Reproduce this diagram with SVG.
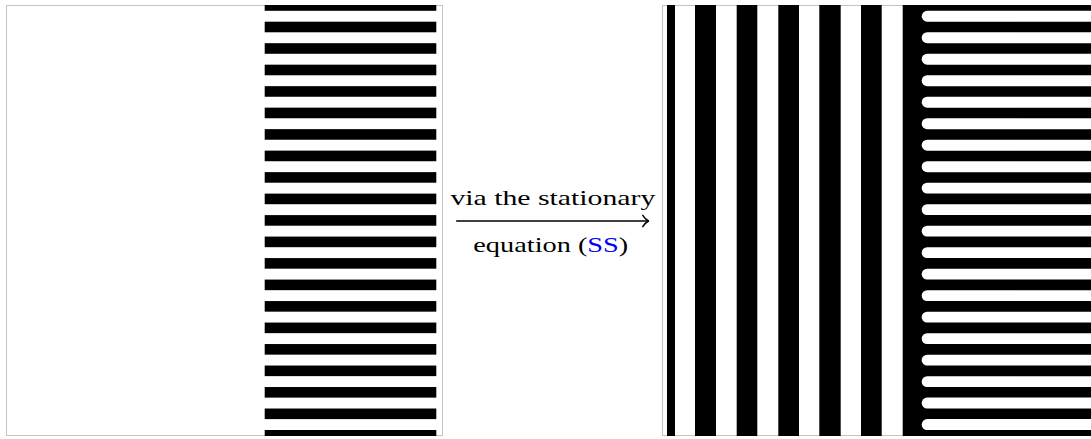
<svg xmlns="http://www.w3.org/2000/svg" width="1091" height="439" viewBox="0 0 1091 439">
  <style>
    .frame { fill: #ffffff; stroke: #c4c4c4; stroke-width: 1; }
    .blk { fill: #000000; }
    .wht { fill: #ffffff; }
    .lbl { font-family: "Liberation Serif", "DejaVu Serif", serif; font-size: 22px; fill: #000000; }
    .ref { fill: #0000ff; }
    .arrow { stroke: #000000; stroke-width: 1.5; fill: none; stroke-linecap: round; stroke-linejoin: round; }
  </style>
  <defs>
    <clipPath id="clipL"><rect x="6" y="5" width="437" height="431"/></clipPath>
    <clipPath id="clipR"><rect x="662" y="5" width="440" height="431"/></clipPath>
  </defs>
  <rect x="0" y="0" width="1091" height="439" fill="#ffffff"/>

  <g id="left-panel">
    <rect class="frame" x="6.5" y="5.5" width="436" height="430"/>
    <g clip-path="url(#clipL)">
      <rect class="blk" x="264.7" y="0.2" width="171.6" height="10.6"/>
      <rect class="blk" x="264.7" y="21.69" width="171.6" height="10.6"/>
      <rect class="blk" x="264.7" y="43.18" width="171.6" height="10.6"/>
      <rect class="blk" x="264.7" y="64.67" width="171.6" height="10.6"/>
      <rect class="blk" x="264.7" y="86.16" width="171.6" height="10.6"/>
      <rect class="blk" x="264.7" y="107.65" width="171.6" height="10.6"/>
      <rect class="blk" x="264.7" y="129.14" width="171.6" height="10.6"/>
      <rect class="blk" x="264.7" y="150.63" width="171.6" height="10.6"/>
      <rect class="blk" x="264.7" y="172.12" width="171.6" height="10.6"/>
      <rect class="blk" x="264.7" y="193.61" width="171.6" height="10.6"/>
      <rect class="blk" x="264.7" y="215.1" width="171.6" height="10.6"/>
      <rect class="blk" x="264.7" y="236.59" width="171.6" height="10.6"/>
      <rect class="blk" x="264.7" y="258.08" width="171.6" height="10.6"/>
      <rect class="blk" x="264.7" y="279.57" width="171.6" height="10.6"/>
      <rect class="blk" x="264.7" y="301.06" width="171.6" height="10.6"/>
      <rect class="blk" x="264.7" y="322.55" width="171.6" height="10.6"/>
      <rect class="blk" x="264.7" y="344.04" width="171.6" height="10.6"/>
      <rect class="blk" x="264.7" y="365.53" width="171.6" height="10.6"/>
      <rect class="blk" x="264.7" y="387.02" width="171.6" height="10.6"/>
      <rect class="blk" x="264.7" y="408.51" width="171.6" height="10.6"/>
      <rect class="blk" x="264.7" y="430.0" width="171.6" height="10.6"/>
    </g>
  </g>

  <g id="right-panel">
    <rect class="frame" x="662.5" y="5.5" width="440" height="430"/>
    <g clip-path="url(#clipR)">
      <rect class="blk" x="667" y="5" width="8" height="431"/>
      <rect class="blk" x="695" y="5" width="21" height="431"/>
      <rect class="blk" x="736.7" y="5" width="20.6" height="431"/>
      <rect class="blk" x="778.3" y="5" width="20.7" height="431"/>
      <rect class="blk" x="819.3" y="5" width="21.4" height="431"/>
      <rect class="blk" x="861" y="5" width="20.7" height="431"/>
      <rect class="blk" x="902.7" y="5" width="200" height="431"/>
      <rect class="wht" x="921.7" y="10.8" width="200" height="10.9" rx="5.4"/>
      <rect class="wht" x="921.7" y="32.29" width="200" height="10.9" rx="5.4"/>
      <rect class="wht" x="921.7" y="53.78" width="200" height="10.9" rx="5.4"/>
      <rect class="wht" x="921.7" y="75.27" width="200" height="10.9" rx="5.4"/>
      <rect class="wht" x="921.7" y="96.76" width="200" height="10.9" rx="5.4"/>
      <rect class="wht" x="921.7" y="118.25" width="200" height="10.9" rx="5.4"/>
      <rect class="wht" x="921.7" y="139.74" width="200" height="10.9" rx="5.4"/>
      <rect class="wht" x="921.7" y="161.23" width="200" height="10.9" rx="5.4"/>
      <rect class="wht" x="921.7" y="182.72" width="200" height="10.9" rx="5.4"/>
      <rect class="wht" x="921.7" y="204.21" width="200" height="10.9" rx="5.4"/>
      <rect class="wht" x="921.7" y="225.7" width="200" height="10.9" rx="5.4"/>
      <rect class="wht" x="921.7" y="247.19" width="200" height="10.9" rx="5.4"/>
      <rect class="wht" x="921.7" y="268.68" width="200" height="10.9" rx="5.4"/>
      <rect class="wht" x="921.7" y="290.17" width="200" height="10.9" rx="5.4"/>
      <rect class="wht" x="921.7" y="311.66" width="200" height="10.9" rx="5.4"/>
      <rect class="wht" x="921.7" y="333.15" width="200" height="10.9" rx="5.4"/>
      <rect class="wht" x="921.7" y="354.64" width="200" height="10.9" rx="5.4"/>
      <rect class="wht" x="921.7" y="376.13" width="200" height="10.9" rx="5.4"/>
      <rect class="wht" x="921.7" y="397.62" width="200" height="10.9" rx="5.4"/>
      <rect class="wht" x="921.7" y="419.11" width="200" height="10.9" rx="5.4"/>
    </g>
  </g>

  <g id="connectors">
    <line class="arrow" x1="456.7" y1="221" x2="648" y2="221"/>
    <path class="arrow" d="M642.8 215.3 Q645.3 219.3 648.5 221 Q645.3 222.7 642.8 226.7"/>
  </g>

  <g id="arrow-label">
    <text class="lbl" x="552.9" y="204.8" text-anchor="middle" textLength="205" lengthAdjust="spacingAndGlyphs">via the stationary</text>
    <text class="lbl" x="550.8" y="252" text-anchor="middle" textLength="155" lengthAdjust="spacingAndGlyphs">equation (<tspan class="ref">SS</tspan>)</text>
  </g>
</svg>
